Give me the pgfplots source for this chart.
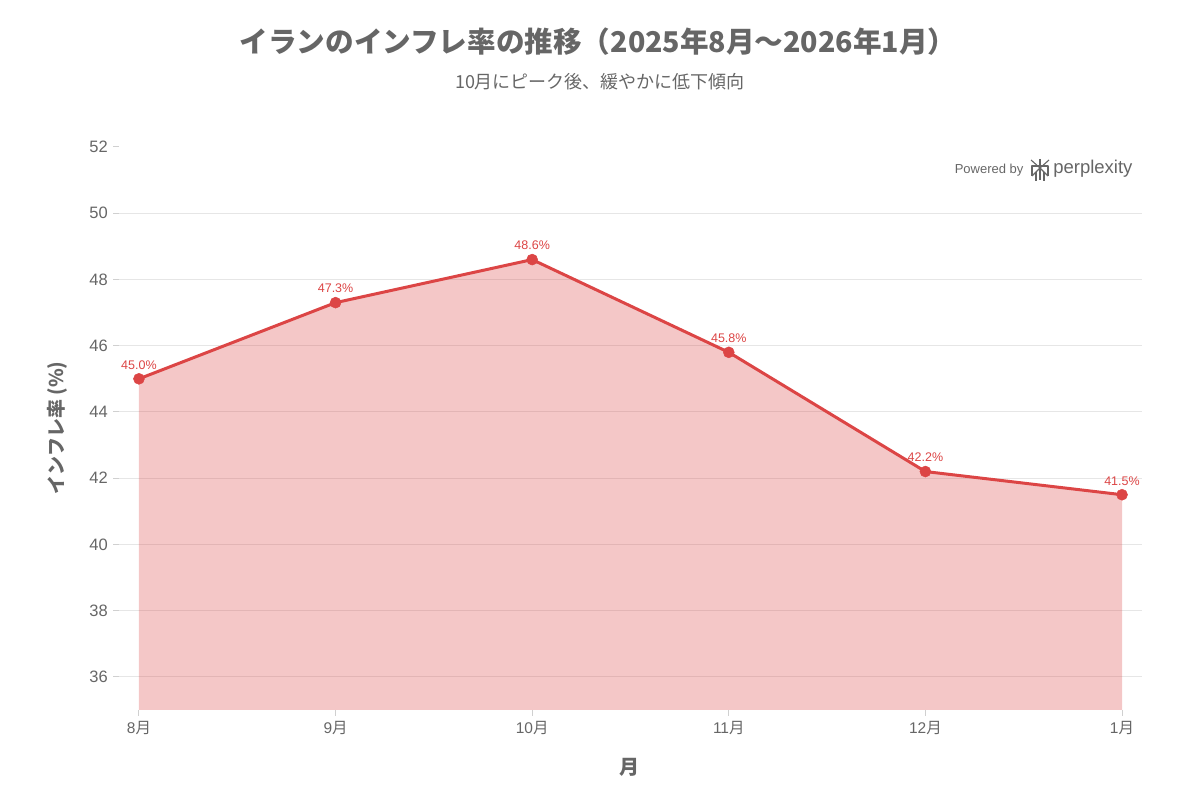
\documentclass[border=0pt]{standalone}
\usepackage{fontspec}
\setmainfont{Noto Sans CJK JP}
\newfontfamily\lib{Liberation Sans}
\usepackage{pgfplots}
\pgfplotsset{compat=1.18}
\definecolor{linered}{HTML}{DC4545}
\definecolor{txt}{HTML}{666666}
\definecolor{gridc}{HTML}{E6E6E6}
\definecolor{tickc}{HTML}{D0D0D0}
\begin{document}
\begin{tikzpicture}[x=1pt,y=1pt]
\path[use as bounding box] (0,0) rectangle (1200,800);
\begin{axis}[
  at={(119.3pt,90pt)}, anchor=south west,
  scale only axis, width=1022.4pt, height=563pt,
  xmin=-0.1, xmax=5.1, ymin=35, ymax=52,
  axis line style={draw=none},
  xtick={0,1,2,3,4,5},
  xticklabels={{\lib 8}月,{\lib 9}月,{\lib 10}月,{\lib 11}月,{\lib 12}月,{\lib 1}月},
  ytick={36,38,...,50},
  extra y ticks={52},
  extra y tick style={grid=none},
  ymajorgrids, grid style={gridc, line width=1pt},
  xtick pos=bottom, ytick pos=left,
  tick align=outside, major tick length=6pt,
  tick style={tickc, line width=1pt},
  every tick label/.append style={txt},
  yticklabel style={font=\lib\fontsize{16.5}{18}\selectfont, xshift=-2pt},
  xticklabel style={font=\fontsize{15.5}{18}\selectfont, yshift=-2pt},
  /pgf/number format/assume math mode=true,
  clip=true,
]
\addplot[fill=linered, fill opacity=0.3, draw=none] coordinates {(0,45.0) (1,47.3) (2,48.6) (3,45.8) (4,42.2) (5,41.5)} \closedcycle;
\addplot[linered, line width=3pt, mark=*, mark size=5.5pt, mark options={fill=linered, draw=linered, line width=0.5pt},
  nodes near coords={\pgfmathprintnumber[fixed, fixed zerofill, precision=1]{\pgfplotspointmeta}\%},
  every node near coord/.append style={font=\lib\fontsize{12.5}{14}\selectfont, text=linered, yshift=6pt},
  point meta=explicit] coordinates {(0,45.0) [45.0] (1,47.3) [47.3] (2,48.6) [48.6] (3,45.8) [45.8] (4,42.2) [42.2] (5,41.5) [41.5]};
\end{axis}
% titles
\node[text=txt, font=\fontsize{28.6}{32}\selectfont\bfseries] at (598,758) {イランのインフレ率の推移（2025年8月〜2026年1月）};
\node[text=txt, font=\fontsize{18}{20}\selectfont] at (600,718) {10月にピーク後、緩やかに低下傾向};
\node[text=txt, font=\fontsize{19}{22}\selectfont\bfseries, rotate=90] at (57,372) {インフレ率 (\%)};
\node[text=txt, font=\fontsize{20}{22}\selectfont\bfseries] at (629,33) {月};
% powered by
\node[text=txt, font=\lib\fontsize{13}{15}\selectfont, anchor=east] at (1027,630) {Powered by};
\node[text=txt, font=\lib\fontsize{18.5}{20}\selectfont, anchor=east] at (1136,631) {perplexity};
\begin{scope}[draw=txt, line width=1.1pt, line join=round, xshift=-3pt]
  \draw (1034,640) -- (1043,632) -- (1052,640);
  \draw (1043,641) -- (1043,620);
  \draw (1035,624) -- (1035,634) -- (1051,634) -- (1051,624);
  \draw (1035,624) -- (1043,632) -- (1051,624);
  \draw (1039,619) -- (1039,628);
  \draw (1047,619) -- (1047,628);
\end{scope}
\end{tikzpicture}
\end{document}
